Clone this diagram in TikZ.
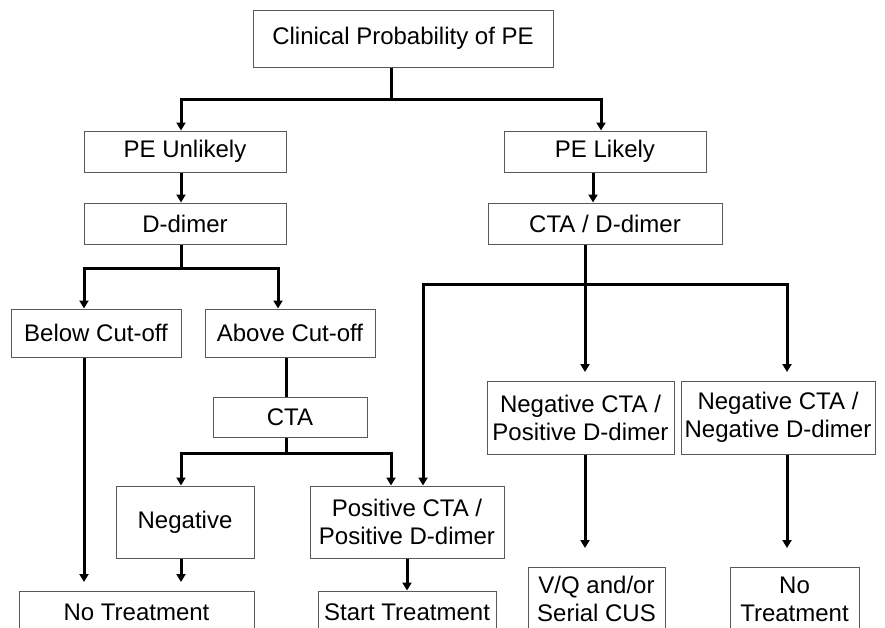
\documentclass[tikz,border=0pt]{standalone}
\usepackage{fontspec}
\setmainfont{Liberation Sans}
\usetikzlibrary{arrows.meta}
\begin{document}
\begin{tikzpicture}[x=1pt,y=-1pt,
  box/.style={draw=black!65, line width=1pt, fill=white, align=center, inner sep=0pt,
    font=\fontsize{24}{28}\selectfont},
  conn/.style={line width=3pt, line join=miter},
  arr/.style={conn, -{Triangle[length=8pt,width=9pt]}}]
\useasboundingbox (0,0) rectangle (885,627);
\clip (0,0) rectangle (885,627);
% nodes
\node[box, minimum width=300pt, minimum height=57pt] (top) at (403,38.5) {Clinical Probability of PE};
\node[box, minimum width=202pt, minimum height=41pt] (unl) at (185,151.5) {PE Unlikely};
\node[box, minimum width=202pt, minimum height=41pt] (lik) at (605,151.5) {PE Likely};
\node[box, minimum width=202pt, minimum height=41pt] (dd) at (185,223.5) {D-dimer};
\node[box, minimum width=234pt, minimum height=41pt] (ctadd) at (605,223.5) {CTA / D-dimer};
\node[box, minimum width=170pt, minimum height=48pt] (below) at (96,333) {Below Cut-off};
\node[box, minimum width=170pt, minimum height=48pt] (above) at (290,333) {Above Cut-off};
\node[box, minimum width=154pt, minimum height=40pt] (cta) at (290,417) {CTA};
\node[box, minimum width=138pt, minimum height=72pt] (neg) at (185,522) {Negative};
\node[box, minimum width=194pt, minimum height=72pt] (pos) at (407,522) {Positive CTA /\\Positive D-dimer};
\node[box, minimum width=187pt, minimum height=73pt] (nct) at (580.5,417.5) {Negative CTA /\\Positive D-dimer};
\node[box, minimum width=194pt, minimum height=73pt] (ncn) at (778,417.5) {Negative CTA /\\Negative D-dimer};
\node[box, minimum width=235pt, minimum height=42pt] (notr) at (136.5,612) {No Treatment};
\node[box, minimum width=178pt, minimum height=42pt] (start) at (407,612) {Start Treatment};
\node[box, minimum width=137pt, minimum height=64pt] (vq) at (596.5,599) {V/Q and/or\\Serial CUS};
\node[box, minimum width=129pt, minimum height=64pt] (notr2) at (794.5,599) {No\\Treatment};
% helper x positions
\coordinate (x84) at (84,0);
\coordinate (x181) at (181,0);
\coordinate (x278) at (278,0);
\coordinate (x286) at (286,0);
\coordinate (x391) at (391,0);
\coordinate (x407) at (407,0);
\coordinate (x423) at (423,0);
\coordinate (x585) at (585,0);
\coordinate (x593) at (593,0);
\coordinate (x601) at (601,0);
\coordinate (x787) at (787,0);
\coordinate (j1) at (391,99);
\coordinate (j2) at (181,268);
\coordinate (j3) at (286,453);
\coordinate (j4) at (585,284);
\coordinate (e1) at (84,582);
\coordinate (e2) at (181,582);
\coordinate (e3) at (585,548);
\coordinate (e4) at (787,548);
\coordinate (e5) at (585,372);
\coordinate (e6) at (787,372);
% connectors
\draw[conn] (top.south -| x391) -- (j1);
\draw[arr] (j1) -| (unl.north -| x181);
\draw[arr] (j1) -| (lik.north -| x601);
\draw[arr] (unl.south -| x181) -- (dd.north -| x181);
\draw[arr] (lik.south -| x593) -- (ctadd.north -| x593);
\draw[conn] (dd.south -| x181) -- (j2);
\draw[arr] (j2) -| (below.north -| x84);
\draw[arr] (j2) -| (above.north -| x278);
\draw[conn] (above.south -| x286) -- (cta.north -| x286);
\draw[conn] (cta.south -| x286) -- (j3);
\draw[arr] (j3) -| (neg.north -| x181);
\draw[arr] (j3) -| (pos.north -| x391);
\draw[arr] (below.south -| x84) -- (e1);
\draw[arr] (neg.south -| x181) -- (e2);
\draw[arr] (pos.south -| x407) -- (start.north -| x407);
\draw[conn] (ctadd.south -| x585) -- (j4);
\draw[arr] (j4) -| (pos.north -| x423);
\draw[arr] (j4) -- (e5);
\draw[arr] (j4) -| (e6);
\draw[arr] (nct.south -| x585) -- (e3);
\draw[arr] (ncn.south -| x787) -- (e4);
\end{tikzpicture}
\end{document}
